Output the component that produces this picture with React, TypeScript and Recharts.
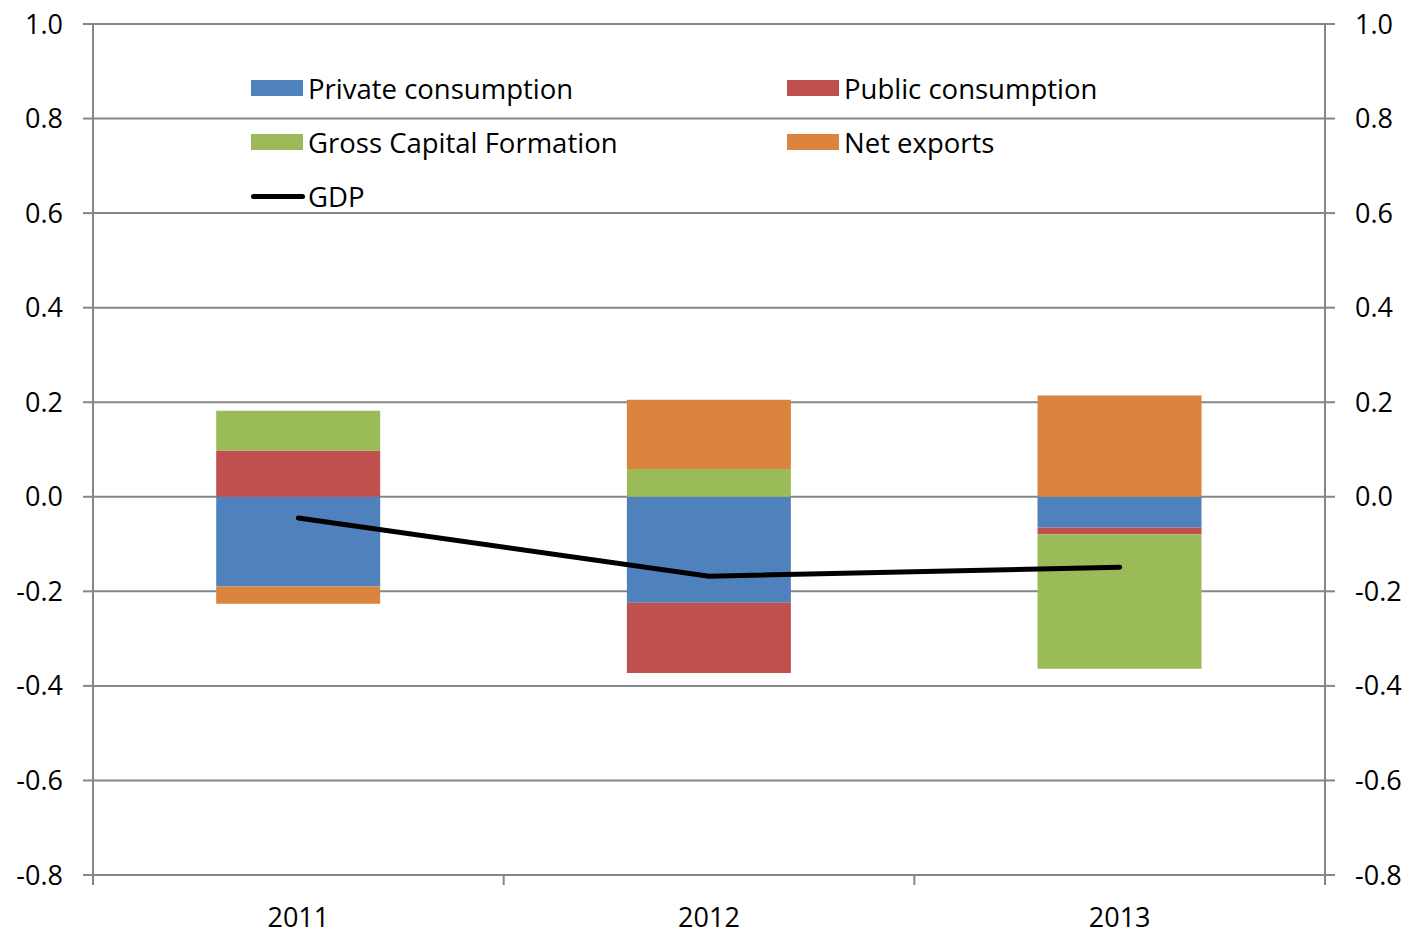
import { ComposedChart, Bar, Line, XAxis, YAxis, CartesianGrid, Legend } from 'recharts';

const years = ['2011', '2012', '2013'];
const privateConsumption = [-0.19, -0.224, -0.065];
const publicConsumption = [0.098, -0.149, -0.014];
const grossCapital = [0.084, 0.059, -0.285];
const netExports = [-0.036, 0.146, 0.214];
const gdp = [-0.045, -0.168, -0.149];
const yTicks = [-0.8, -0.6, -0.4, -0.2, 0.0, 0.2, 0.4, 0.6, 0.8, 1.0];

const data = years.map((year, i) => ({
  year,
  priv: privateConsumption[i],
  pub: publicConsumption[i],
  gcf: grossCapital[i],
  nx: netExports[i],
  gdp: gdp[i]
}));

const W = 1422;
const H = 936;
const LEFT_W = 93;
const RIGHT_W = 97;
const GRAY = '#868686';
const FONT = '"Open Sans", sans-serif';
const bandWidth = (W - LEFT_W - RIGHT_W) / years.length;

const legendItems = [
  { name: 'Private consumption', color: '#4F81BD', kind: 'bar' },
  { name: 'Public consumption', color: '#C0504D', kind: 'bar' },
  { name: 'Gross Capital Formation', color: '#9BBB59', kind: 'bar' },
  { name: 'Net exports', color: '#DB843D', kind: 'bar' },
  { name: 'GDP', color: '#000000', kind: 'line' }
];

function ChartLegend() {
  return (
    <div style={{ position: 'relative', width: 900, height: 170, fontFamily: FONT, fontSize: 27.5, color: '#000' }}>
      {legendItems.map((item, i) => {
        const col = i % 2;
        const row = Math.floor(i / 2);
        return (
          <div
            key={item.name}
            style={{
              position: 'absolute',
              left: col * 536,
              top: row * 54,
              display: 'flex',
              alignItems: 'center',
              height: 36,
              whiteSpace: 'nowrap'
            }}
          >
            {item.kind === 'bar' ? (
              <div style={{ width: 52, height: 16, background: item.color, marginRight: 5 }} />
            ) : (
              <div style={{ width: 54, height: 5, background: item.color, borderRadius: 3, marginRight: 3 }} />
            )}
            <span>{item.name}</span>
          </div>
        );
      })}
    </div>
  );
}

function YearTick(props: any) {
  const { x, y, payload, index } = props;
  const half = bandWidth / 2;
  return (
    <g>
      <line x1={x - half} y1={y} x2={x - half} y2={y + 10} stroke={GRAY} strokeWidth={2} />
      {index === years.length - 1 && (
        <line x1={x + half} y1={y} x2={x + half} y2={y + 10} stroke={GRAY} strokeWidth={2} />
      )}
      <text x={x} y={y + 52} textAnchor="middle" fontFamily={FONT} fontSize={27} fill="#000">
        {payload.value}
      </text>
    </g>
  );
}

export default function App() {
  const tickStyle = { fontFamily: FONT, fontSize: 27, fill: '#000' };
  return (
    <div style={{ position: 'absolute', left: 0, top: 0, width: W, height: H, background: '#fff' }}>
      <ComposedChart
        width={W}
        height={H}
        data={data}
        stackOffset="sign"
        barCategoryGap="30%"
        margin={{ top: 24, right: 0, left: 0, bottom: 0 }}
      >
        <CartesianGrid yAxisId="left" vertical={false} stroke={GRAY} strokeWidth={2} />
        <XAxis
          dataKey="year"
          height={61}
          axisLine={{ stroke: GRAY, strokeWidth: 2 }}
          tickLine={false}
          tickSize={0}
          tickMargin={0}
          tick={<YearTick />}
          interval={0}
        />
        <YAxis
          yAxisId="left"
          width={LEFT_W}
          domain={[-0.8, 1]}
          ticks={yTicks}
          allowDataOverflow
          tickFormatter={(v: number) => v.toFixed(1)}
          axisLine={{ stroke: GRAY, strokeWidth: 2 }}
          tickLine={{ stroke: GRAY, strokeWidth: 2 }}
          tickSize={10}
          tickMargin={20}
          tick={tickStyle}
        />
        <YAxis
          yAxisId="right"
          orientation="right"
          width={RIGHT_W}
          domain={[-0.8, 1]}
          ticks={yTicks}
          allowDataOverflow
          tickFormatter={(v: number) => v.toFixed(1)}
          axisLine={{ stroke: GRAY, strokeWidth: 2 }}
          tickLine={{ stroke: GRAY, strokeWidth: 2 }}
          tickSize={10}
          tickMargin={20}
          tick={tickStyle}
        />
        <Legend
          layout="horizontal"
          verticalAlign="middle"
          align="center"
          wrapperStyle={{ left: 251, top: 70, width: 900 }}
          content={() => <ChartLegend />}
        />
        <Bar yAxisId="left" dataKey="priv" stackId="a" fill="#4F81BD" isAnimationActive={false} />
        <Bar yAxisId="left" dataKey="pub" stackId="a" fill="#C0504D" isAnimationActive={false} />
        <Bar yAxisId="left" dataKey="gcf" stackId="a" fill="#9BBB59" isAnimationActive={false} />
        <Bar yAxisId="left" dataKey="nx" stackId="a" fill="#DB843D" isAnimationActive={false} />
        <Line
          yAxisId="left"
          dataKey="gdp"
          stroke="#000"
          strokeWidth={5}
          strokeLinecap="round"
          dot={false}
          activeDot={false}
          isAnimationActive={false}
        />
      </ComposedChart>
    </div>
  );
}
